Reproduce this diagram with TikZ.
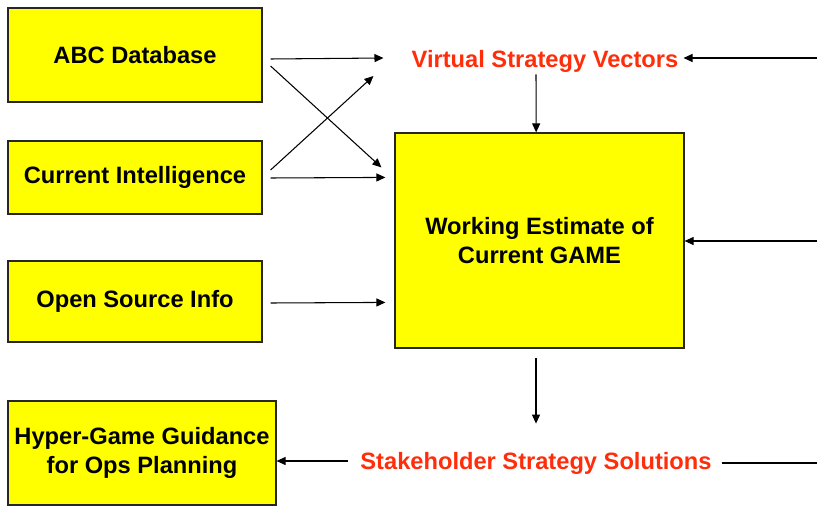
\documentclass[tikz,border=0pt]{standalone}
\usepackage{fontspec}
\setmainfont{Liberation Sans}
\usetikzlibrary{arrows.meta}

\begin{document}
\begin{tikzpicture}[x=0.03cm, y=-0.03cm,
    every text node part/.style={align=center},
    font=\fontsize{20.2}{24.7}\selectfont\bfseries,
    arr/.style = {-{Triangle[length=0.27cm, width=0.24cm]}, line width=0.9pt},
    lbl/.style = {inner sep=0pt, text=vecred}
  ]
  \definecolor{vecred}{RGB}{255,45,10}
  \definecolor{boxyellow}{RGB}{255,255,0}
  \tikzstyle{box}=[draw=black!85, line width=1pt, fill=boxyellow, inner sep=2pt]

  \useasboundingbox (0,0) rectangle (817,506);

  \node[box, minimum width=7.62cm, minimum height=2.82cm] (abc)   at (135,55)      {ABC Database};
  \node[box, minimum width=7.62cm, minimum height=2.19cm] (cur)   at (135,177.5)   {Current Intelligence};
  \node[box, minimum width=7.62cm, minimum height=2.43cm] (osi)   at (135,301.5)   {Open Source Info};
  \node[box, minimum width=8.04cm, minimum height=3.12cm] (hyper) at (142,453)     {Hyper-Game Guidance\\for Ops Planning};
  \node[box, minimum width=8.67cm, minimum height=6.45cm] (work)  at (539.5,240.5) {Working Estimate of\\Current GAME};

  \node[lbl] (vsv) at (545,61)  {Virtual Strategy Vectors};
  \node[lbl] (sss) at (536,463) {Stakeholder Strategy Solutions};

  \coordinate (in_v)  at (817,58);
  \coordinate (in_w)  at (817,241);
  \coordinate (out_s) at (817,463);

  \draw[arr] ([shift={(8,4)}]abc.east)    -- ([shift={(-28,-3)}]vsv.west);
  \draw[arr] ([shift={(8,11)}]abc.east)   -- ([shift={(-13,35)}]work.north west);
  \draw[arr] ([shift={(8,-7.5)}]cur.east) -- ([shift={(-38,15)}]vsv.west);
  \draw[arr] ([shift={(8,0.5)}]cur.east)  -- ([shift={(-9,45)}]work.north west);
  \draw[arr] ([shift={(8,1.5)}]osi.east)  -- ([shift={(-9,170)}]work.north west);
  \draw[arr] (in_v) -- ([shift={(5,-3)}]vsv.east);
  \draw[arr] ([shift={(-3.5,-58)}]work.north) -- ([xshift=-0.1cm]work.north);
  \draw[arr] (in_w) -- (work.east |- in_w);
  \draw[arr] ([shift={(-3.5,9)}]work.south) -- ([shift={(-3.5,75)}]work.south);
  \draw[arr] ([shift={(-12,-2)}]sss.west) -- ([yshift=0.06cm]hyper.east |- sss);
  \draw[line width=0.9pt] ([shift={(10,0)}]sss.east) -- (out_s);
\end{tikzpicture}
\end{document}
